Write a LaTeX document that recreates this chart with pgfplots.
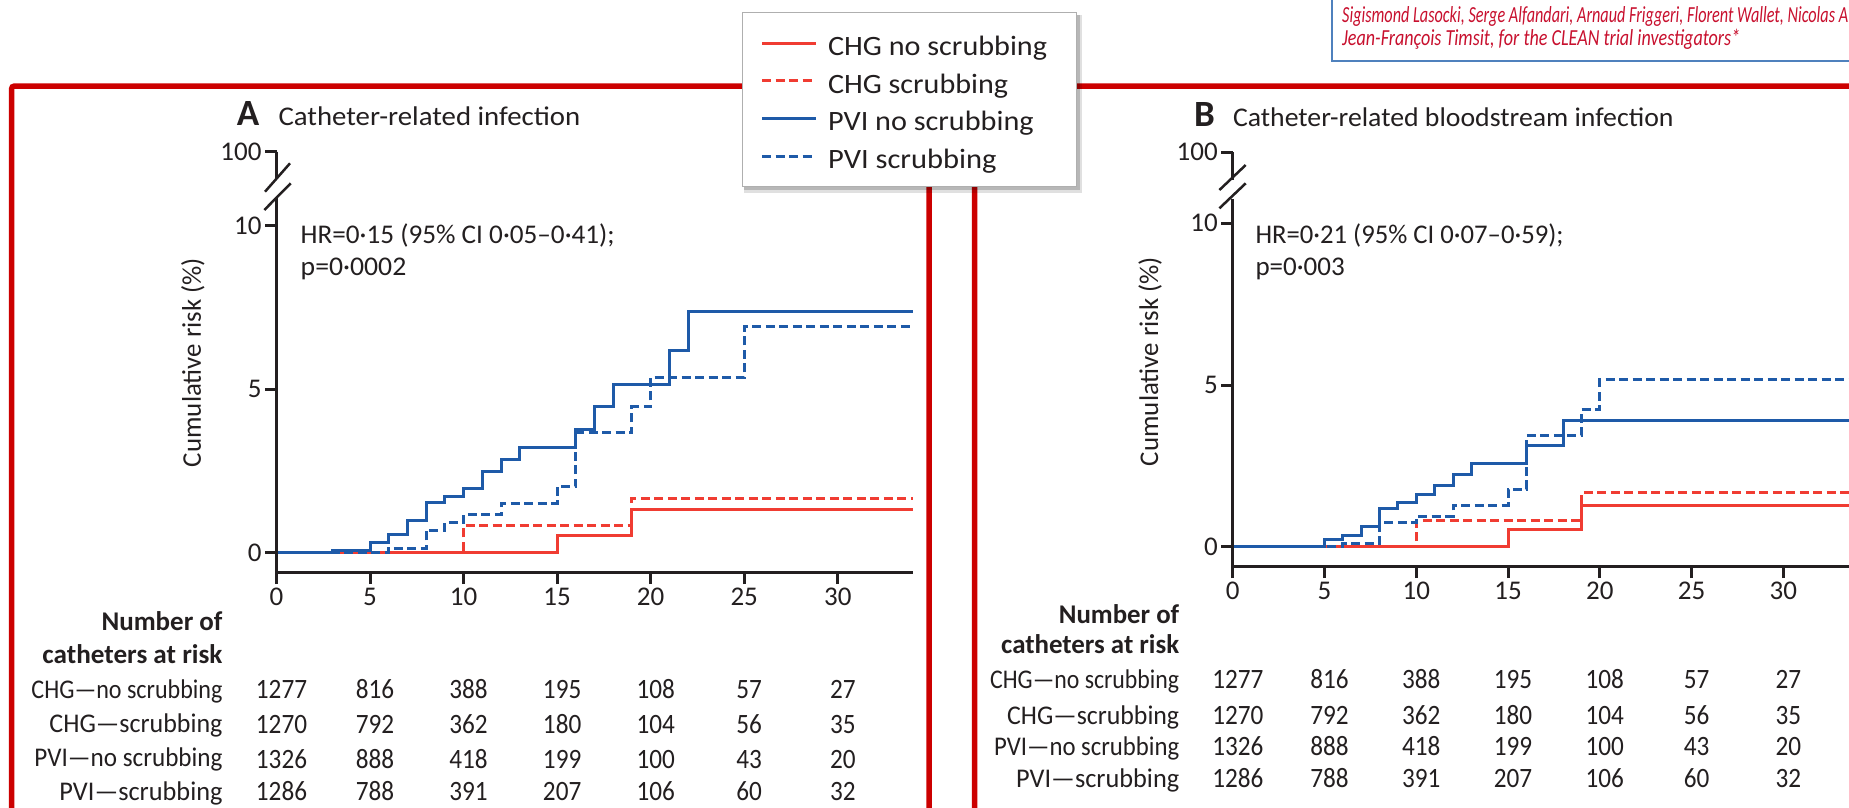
\documentclass[border=0pt]{standalone}
\usepackage{fontspec}
\setmainfont{Carlito}
\newfontfamily\numfont{Carlito}[FakeStretch=0.9]
\usepackage{graphicx}
\usepackage{pgfplots}
\pgfplotsset{compat=1.18}
\definecolor{cblue}{RGB}{30,90,168}
\definecolor{cred}{RGB}{240,60,50}
\definecolor{framered}{RGB}{204,0,0}
\definecolor{txt}{RGB}{35,31,32}
\definecolor{boxblue}{RGB}{79,129,189}
\definecolor{authred}{RGB}{200,16,46}
\definecolor{leggray}{RGB}{175,175,175}
\newcommand{\fs}[1]{\fontsize{#1}{#1}\selectfont}
\newcommand{\fitw}[2]{\resizebox{#1}{\height}{#2}}

\tikzset{brk/.style={line width=3pt, color=txt}}
\pgfplotsset{
  kmaxis/.style={
    scale only axis, clip=false, anchor=south west,
    xmin=0, xmax=34,
    axis x line*=bottom, axis y line*=left,
    y axis line style={draw=none},
    x axis line style={line width=3pt, color=txt},
    tick style={line width=3pt, color=txt},
    tick align=outside, major tick length=11.5pt,
    xtick={0,5,10,15,20,25,30},
    xticklabels={0,5,10,15,20,25,30},
    ticklabel style={font=\fs{27}, text=txt},
    /pgf/number format/assume math mode=true,
    ylabel={\fitw{209pt}{Cumulative risk (\%)}},
    ylabel style={font=\fs{27}, text=txt, anchor=center},
  },
  km/.style={const plot, line width=3pt},
  kmdash/.style={const plot, line width=3pt, dash pattern=on 9pt off 4.5pt},
  riskrow/.style={draw=none, forget plot, nodes near coords,
    point meta=explicit symbolic, nodes near coords align={anchor=base},
    every node near coord/.append style={font=\numfont\fs{28}, text=txt, inner sep=0pt, xshift=5pt}},
}

\begin{document}
\begin{tikzpicture}
\begin{pgfinterruptboundingbox}
\begin{scope}
\clip (0pt,0pt) rectangle (1849pt,-807pt);
\fill[white] (0pt,0pt) rectangle (1849pt,-807pt);

% frames, title texts, table labels
\begin{scope}[x=1pt,y=-1pt]
  \draw[framered, line width=5.5pt, rounded corners=3pt] (11.5,840) -- (11.5,86) -- (929,86) -- (929,840);
  \draw[framered, line width=5.5pt, rounded corners=3pt] (974.5,840) -- (974.5,86) -- (1900,86);
  % legend shadow
  \fill[black, opacity=0.12] (744,15) rectangle (1082,193);
  \fill[black, opacity=0.18] (744,15) rectangle (1080,190);
  \draw[boxblue, line width=2pt, fill=white] (1331.8,-20) rectangle (1900,61);
  \node[anchor=base west, inner sep=0pt, text=authred, font=\itshape\fs{23}] at (1342,22)
    {\fitw{506pt}{Sigismond Lasocki, Serge Alfandari, Arnaud Friggeri, Florent Wallet, Nicolas A}};
  \node[anchor=base west, inner sep=0pt, text=authred, font=\itshape\fs{23}] at (1342,45.5)
    {\fitw{398pt}{Jean-François Timsit, for the CLEAN trial investigators*}};

  \node[anchor=base west, inner sep=0pt, text=txt, font=\bfseries\fs{37}] at (236.7,125) {A};
  \node[anchor=base west, inner sep=0pt, text=txt, font=\fs{27}] at (278.3,125) {\fitw{301.7pt}{Catheter-related infection}};
  \node[anchor=base west, inner sep=0pt, text=txt, font=\bfseries\fs{37}] at (1194,126.7) {B};
  \node[anchor=base west, inner sep=0pt, text=txt, font=\fs{27}] at (1232.8,126.7) {\fitw{440.5pt}{Catheter-related bloodstream infection}};

  \node[anchor=base west, inner sep=0pt, text=txt, font=\fs{27}] at (300.5,243) {\fitw{314pt}{HR=0·15 (95\% CI 0·05–0·41);}};
  \node[anchor=base west, inner sep=0pt, text=txt, font=\fs{27}] at (300.5,275) {\fitw{105.6pt}{p=0·0002}};
  \node[anchor=base west, inner sep=0pt, text=txt, font=\fs{27}] at (1255.3,243) {\fitw{308pt}{HR=0·21 (95\% CI 0·07–0·59);}};
  \node[anchor=base west, inner sep=0pt, text=txt, font=\fs{27}] at (1255.3,275) {\fitw{89.3pt}{p=0·003}};

  \begin{scope}[every node/.style={anchor=base east, inner sep=0pt, text=txt}]
    \node[font=\bfseries\fs{27}] at (222.7,630) {\fitw{121pt}{Number of}};
    \node[font=\bfseries\fs{27}] at (222.7,663) {\fitw{180pt}{catheters at risk}};
    \node[font=\fs{27}] at (222.7,698.3) {\fitw{191pt}{CHG—no scrubbing}};
    \node[font=\fs{27}] at (222.7,732.7) {\fitw{173pt}{CHG—scrubbing}};
    \node[font=\fs{27}] at (222.7,766.7) {\fitw{188pt}{PVI—no scrubbing}};
    \node[font=\fs{27}] at (222.7,800) {\fitw{163pt}{PVI—scrubbing}};
    \node[font=\bfseries\fs{27}] at (1179.4,623) {\fitw{120.4pt}{Number of}};
    \node[font=\bfseries\fs{27}] at (1179.4,653) {\fitw{178pt}{catheters at risk}};
    \node[font=\fs{27}] at (1179.4,688) {\fitw{189pt}{CHG—no scrubbing}};
    \node[font=\fs{27}] at (1179.4,724) {\fitw{172pt}{CHG—scrubbing}};
    \node[font=\fs{27}] at (1179.4,755) {\fitw{185pt}{PVI—no scrubbing}};
    \node[font=\fs{27}] at (1179.4,787) {\fitw{163pt}{PVI—scrubbing}};
  \end{scope}
\end{scope}

% ---------------- Panel A ----------------
\begin{axis}[kmaxis, at={(276.5pt,-572.7pt)}, width=636.1pt, height=421pt,
  ymin=-0.612, ymax=12.27, ytick={0,5,10,12.27}, yticklabels={0,5,10,100},
  ylabel style={at={(axis description cs:-0.1313,0.4993)}},
  legend cell align=left,
  legend image code/.code={\draw[#1] (0pt,0pt) -- (54pt,0pt);},
  legend style={at={(axis description cs:0.7318,1.3318)}, anchor=north west,
    draw=leggray, line width=1pt, fill=white,
    inner xsep=18pt, inner ysep=17pt, row sep=10.7pt,
    font=\fs{28}, text=txt,
    nodes={inner sep=0pt, text height=26pt, text depth=1pt},
    /tikz/every odd column/.append style={column sep=10.6pt}},
]
\addplot[km, cred] coordinates {(0,0) (15,0.54) (19,1.31) (34,1.31)};
\addlegendentry{\makebox[230pt][l]{\fitw{219pt}{CHG no scrubbing}}}
\addplot[kmdash, cred] coordinates {(0,0) (10,0.82) (19,1.66) (34,1.66)};
\addlegendentry{\makebox[230pt][l]{\fitw{180pt}{CHG scrubbing}}}
\addplot[km, cblue] coordinates {(0,0) (3,0.08) (5,0.31) (6,0.56) (7,1.0) (8,1.53) (9,1.71) (10,1.97) (11,2.5) (12,2.84) (13,3.21) (16,3.76) (17,4.46) (18,5.15) (21,6.2) (22,7.37) (34,7.37)};
\addlegendentry{\makebox[230pt][l]{\fitw{205.6pt}{PVI no scrubbing}}}
\addplot[kmdash, cblue] coordinates {(0,0) (6,0.13) (8,0.69) (9,0.92) (10,1.17) (12,1.51) (15,2.02) (16,3.67) (19,4.46) (20,5.37) (25,6.92) (34,6.92)};
\addlegendentry{\makebox[230pt][l]{\fitw{168.4pt}{PVI scrubbing}}}

\addplot[riskrow] coordinates {(0,-4.447)[1277] (5,-4.447)[816] (10,-4.447)[388] (15,-4.447)[195] (20,-4.447)[108] (25,-4.447)[57] (30,-4.447)[27]};
\addplot[riskrow] coordinates {(0,-5.519)[1270] (5,-5.519)[792] (10,-5.519)[362] (15,-5.519)[180] (20,-5.519)[104] (25,-5.519)[56] (30,-5.519)[35]};
\addplot[riskrow] coordinates {(0,-6.59)[1326] (5,-6.59)[888] (10,-6.59)[418] (15,-6.59)[199] (20,-6.59)[100] (25,-6.59)[43] (30,-6.59)[20]};
\addplot[riskrow] coordinates {(0,-7.57)[1286] (5,-7.57)[788] (10,-7.57)[391] (15,-7.57)[207] (20,-7.57)[106] (25,-7.57)[60] (30,-7.57)[32]};

\draw[brk, line cap=rect] (axis cs:0,-0.612) -- ([yshift=-46.6pt]axis cs:0,12.27);
\draw[brk] (axis cs:0,12.27) -- ([yshift=-27.5pt]axis cs:0,12.27);
\draw[line width=2.5pt, txt] ([shift={(-11.5pt,-40pt)}]axis cs:0,12.27) -- ++(25pt,28.4pt);
\draw[line width=2.5pt, txt] ([shift={(-12.2pt,-58.3pt)}]axis cs:0,12.27) -- ++(26.4pt,26.7pt);
\end{axis}

% ---------------- Panel B ----------------
\begin{axis}[kmaxis, at={(1232.8pt,-566.7pt)}, width=623.9pt, height=414.4pt,
  ymin=-0.618, ymax=12.195, ytick={0,5,10,12.195}, yticklabels={0,5,10,100},
  ylabel style={at={(axis description cs:-0.1327,0.4952)}},
]
\addplot[km, cred] coordinates {(0,0) (15,0.52) (19,1.29) (34,1.29)};
\addplot[kmdash, cred] coordinates {(0,0) (10,0.81) (19,1.67) (34,1.67)};
\addplot[km, cblue] coordinates {(0,0) (5,0.21) (6,0.36) (7,0.64) (8,1.19) (9,1.36) (10,1.62) (11,1.88) (12,2.22) (13,2.58) (16,3.13) (18,3.9) (34,3.9)};
\addplot[kmdash, cblue] coordinates {(0,0) (6,0.1) (8,0.74) (10,0.95) (12,1.29) (15,1.78) (16,3.43) (19,4.24) (20,5.17) (34,5.17)};

\addplot[riskrow] coordinates {(0,-4.369)[1277] (5,-4.369)[816] (10,-4.369)[388] (15,-4.369)[195] (20,-4.369)[108] (25,-4.369)[57] (30,-4.369)[27]};
\addplot[riskrow] coordinates {(0,-5.489)[1270] (5,-5.489)[792] (10,-5.489)[362] (15,-5.489)[180] (20,-5.489)[104] (25,-5.489)[56] (30,-5.489)[35]};
\addplot[riskrow] coordinates {(0,-6.447)[1326] (5,-6.447)[888] (10,-6.447)[418] (15,-6.447)[199] (20,-6.447)[100] (25,-6.447)[43] (30,-6.447)[20]};
\addplot[riskrow] coordinates {(0,-7.437)[1286] (5,-7.437)[788] (10,-7.437)[391] (15,-7.437)[207] (20,-7.437)[106] (25,-7.437)[60] (30,-7.437)[32]};

\draw[brk, line cap=rect] (axis cs:0,-0.618) -- ([yshift=-47.7pt]axis cs:0,12.195);
\draw[brk] (axis cs:0,12.195) -- ([yshift=-27.5pt]axis cs:0,12.195);
\draw[line width=2.5pt, txt] ([shift={(-13.4pt,-37.7pt)}]axis cs:0,12.195) -- ++(26.3pt,25pt);
\draw[line width=2.5pt, txt] ([shift={(-13.4pt,-56pt)}]axis cs:0,12.195) -- ++(26.3pt,25pt);
\end{axis}
\end{scope}
\end{pgfinterruptboundingbox}
\useasboundingbox (0pt,0pt) rectangle (1849pt,-807pt);
\end{tikzpicture}
\end{document}
